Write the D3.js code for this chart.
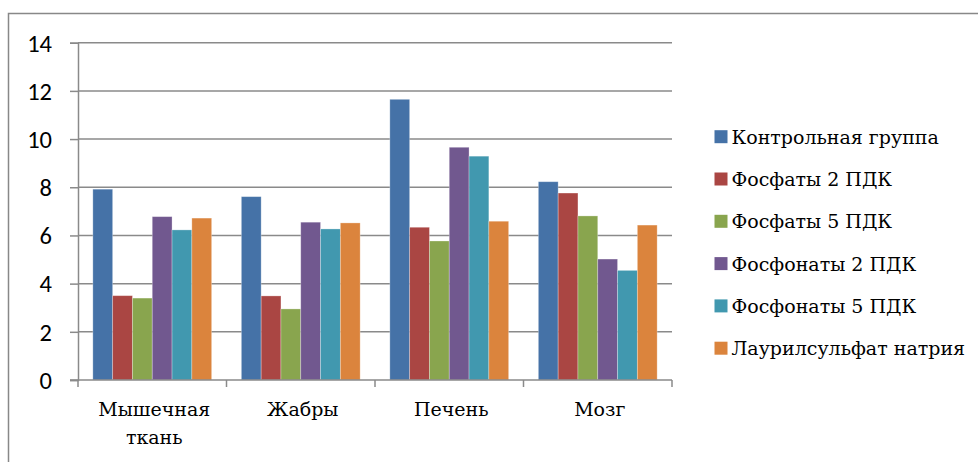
<!DOCTYPE html>
<html><head><meta charset="utf-8">
<script src="https://cdn.jsdelivr.net/npm/d3@7"></script>
<style>body{margin:0;background:#fff}svg{display:block}
.serif{font-family:"DejaVu Serif",serif}
.calib{font-family:Carlito,"Liberation Sans",sans-serif}</style>
</head><body><svg id="c" width="978" height="462"></svg>
<script>
const categories = [["Мышечная","ткань"],["Жабры"],["Печень"],["Мозг"]];
const seriesNames = ["Контрольная группа","Фосфаты 2 ПДК","Фосфаты 5 ПДК","Фосфонаты 2 ПДК","Фосфонаты 5 ПДК","Лаурилсульфат натрия"];
const seriesColors = ["#4572a7","#aa4643","#89a54e","#71588f","#4198af","#db843d"];
const control      = [7.92, 7.61, 11.65, 8.23];
const phosphate2   = [3.50, 3.49, 6.34, 7.76];
const phosphate5   = [3.40, 2.95, 5.77, 6.81];
const phosphonate2 = [6.78, 6.55, 9.66, 5.02];
const phosphonate5 = [6.23, 6.27, 9.29, 4.55];
const lauryl       = [6.72, 6.52, 6.59, 6.43];
const yTicks = [0,2,4,6,8,10,12,14];

const values = [control, phosphate2, phosphate5, phosphonate2, phosphonate5, lauryl];
const svg = d3.select("#c");
const pLeft = 78, pRight = 672, pTop = 42.7, pBottom = 380;

svg.append("rect").attr("x",8.5).attr("y",13.5).attr("width",1000).attr("height",1000)
  .attr("fill","none").attr("stroke","#888").attr("stroke-width",1.5);

const x0 = d3.scaleBand().domain(d3.range(categories.length)).range([pLeft,pRight]).paddingInner(0).paddingOuter(0);
const bw = x0.bandwidth()/7.5;
const x1 = d3.scaleBand().domain(d3.range(seriesNames.length)).range([0.75*bw, x0.bandwidth()-0.75*bw]).padding(0);
const y = d3.scaleLinear().domain([0,14]).range([pBottom,pTop]);

svg.append("g").selectAll("line").data(yTicks.filter(t=>t>0)).join("line")
  .attr("x1",pLeft).attr("x2",pRight).attr("y1",d=>y(d)).attr("y2",d=>y(d))
  .attr("stroke","#8a8a8a").attr("stroke-width",1.5);

const g = svg.append("g");
seriesNames.forEach((s,si)=>{
  g.append("g").selectAll("rect").data(values[si]).join("rect")
    .attr("x",(d,i)=>x0(i)+x1(si))
    .attr("y",d=>y(d))
    .attr("width",x1.bandwidth())
    .attr("height",d=>pBottom-y(d))
    .attr("fill",seriesColors[si])
    .attr("stroke","rgba(255,255,255,0.35)").attr("stroke-width",0.8);
});

const ya = svg.append("g").attr("transform",`translate(${pLeft},0)`)
  .call(d3.axisLeft(y).tickValues(yTicks).tickSize(8).tickPadding(18).tickFormat(d3.format("d")));
ya.attr("font-family",null).attr("font-size",null).attr("class","calib");
ya.select(".domain").attr("stroke","#8a8a8a").attr("stroke-width",1.5);
ya.selectAll(".tick line").attr("stroke","#8a8a8a").attr("stroke-width",1.5);
ya.selectAll("text").style("font-size","24.5px").attr("fill","#000").attr("dy","0.34em");

svg.append("line").attr("x1",pLeft-8).attr("x2",pRight).attr("y1",pBottom).attr("y2",pBottom)
  .attr("stroke","#8a8a8a").attr("stroke-width",1.5);
const bounds = d3.range(categories.length+1).map(i=> i<categories.length ? x0(i) : pRight);
svg.append("g").selectAll("line").data(bounds).join("line")
  .attr("x1",d=>d).attr("x2",d=>d).attr("y1",pBottom).attr("y2",pBottom+7)
  .attr("stroke","#8a8a8a").attr("stroke-width",1.5);

const cl = svg.append("g").attr("class","serif").style("font-size","19px").attr("fill","#000");
categories.forEach((c,i)=>{
  const cx = x0(i)+x0.bandwidth()/2+2;
  const t = cl.append("text").attr("text-anchor","middle").attr("x",cx).attr("y",416);
  c.forEach((line,j)=> t.append("tspan").attr("x",cx).attr("dy",j?28:0).text(line));
});

const lg = svg.append("g").attr("class","serif").style("font-size","19px");
seriesNames.forEach((s,i)=>{
  const cy = 136.7 + i*42.3;
  lg.append("rect").attr("x",714.5).attr("y",cy-6.5).attr("width",13).attr("height",13).attr("fill",seriesColors[i]);
  lg.append("text").attr("x",731.5).attr("y",cy+7).attr("fill","#000").text(s);
});
</script></body></html>
